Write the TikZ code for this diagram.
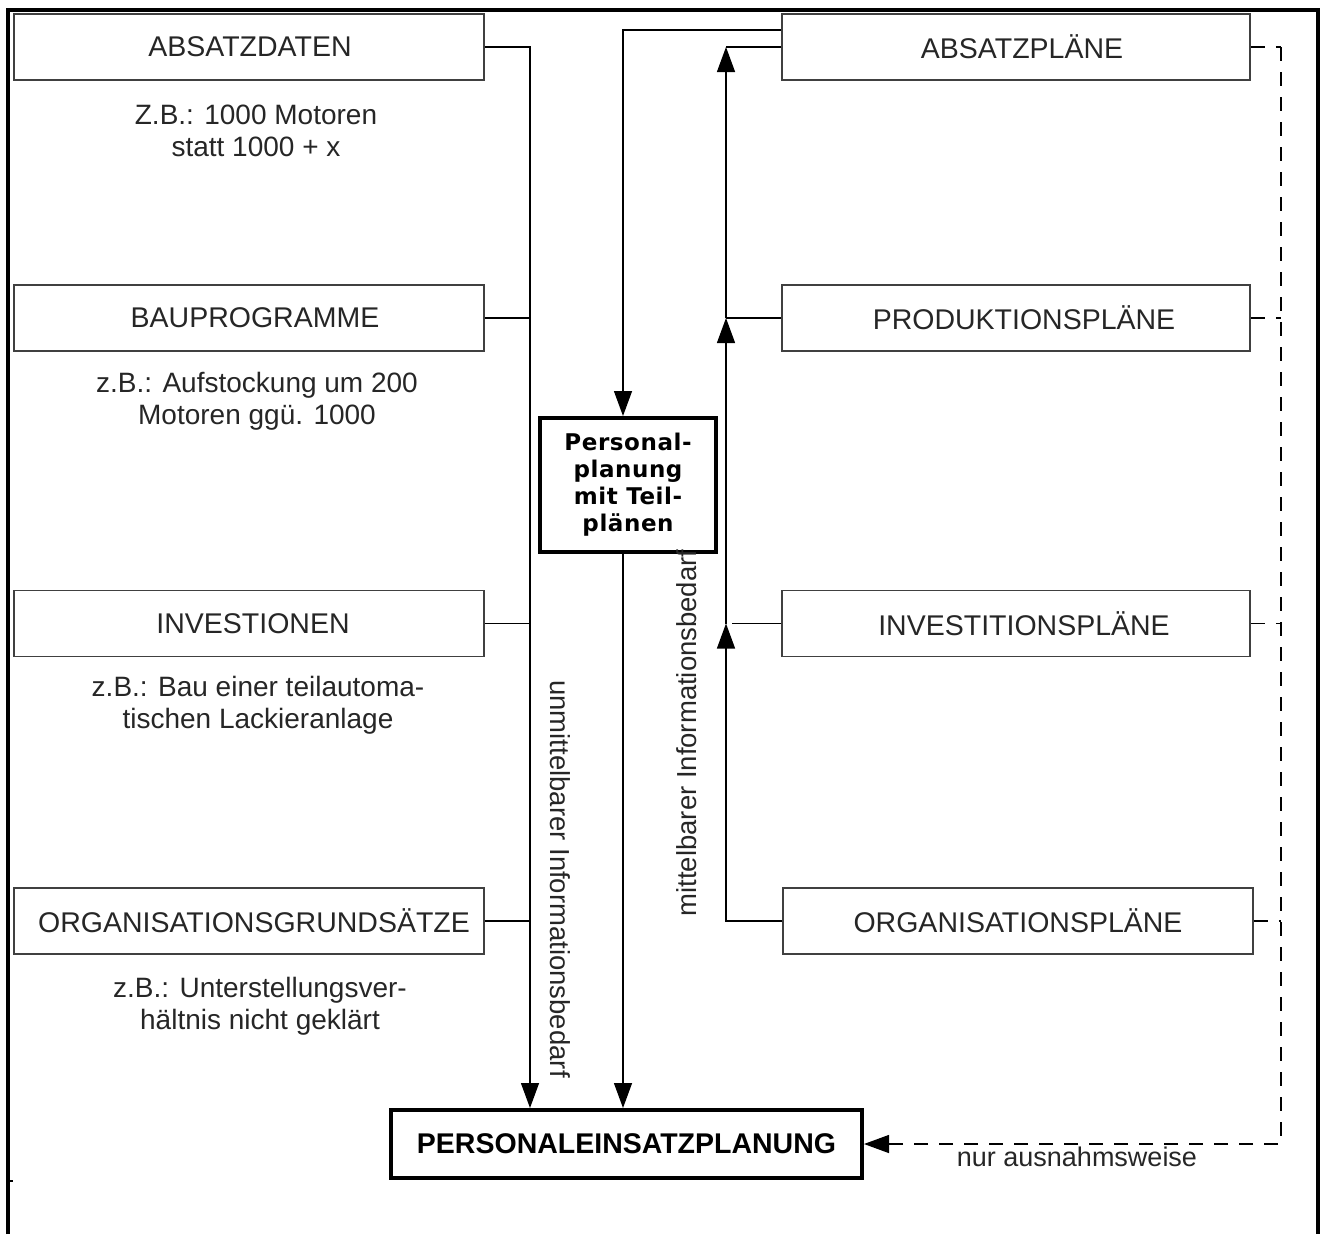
\documentclass[tikz,border=0pt]{standalone}
\usepackage{fontspec}
\setmainfont{Liberation Sans}
\newfontfamily\djsans[LetterSpace=2.5]{DejaVu Sans}
\usetikzlibrary{arrows.meta}
\begin{document}
\begin{tikzpicture}[x=1pt,y=-1pt,
  lbl/.style={font=\fontsize{28.5}{33}\selectfont, text=black!85},
  note/.style={font=\fontsize{28}{32}\selectfont, text=black!85, align=center, inner sep=0pt},
  plainbox/.style={draw=black!75, line width=1.6pt, minimum width=470pt, minimum height=66pt, inner sep=0pt, lbl},
  tshift/.style={execute at begin node={\hspace*{#1}}},
  strongbox/.style={draw=black, line width=4pt, inner sep=0pt},
  conn/.style={draw=black, line width=1.3pt},
  arr/.style={conn, -{Triangle[length=25pt,width=18pt]}},
  dsh/.style={conn, dash pattern=on 14pt off 11pt},
  frame/.style={draw=black, line width=3.2pt}
]
\useasboundingbox (0,0) rectangle (1322,1234);
% frame
\draw[frame] (8,1234) -- (8,10) -- (1318,10) -- (1318,1234);
\draw[line width=2pt] (8,1181) -- (13,1181);

% left boxes
\node[plainbox, tshift=2pt] (ad) at (249,47) {ABSATZDATEN};
\node[plainbox, tshift=12pt] (bp) at (249,318) {BAUPROGRAMME};
\node[plainbox, tshift=8pt] (inv) at (249,623.5) {INVESTIONEN};
\node[plainbox, tshift=10pt] (og) at (249,921) {ORGANISATIONSGRUNDSÄTZE};

% right boxes
\node[plainbox, minimum width=468pt, tshift=12pt] (ap) at (1016,47) {ABSATZPLÄNE};
\node[plainbox, minimum width=468pt, tshift=16pt] (pr) at (1016,318) {PRODUKTIONSPLÄNE};
\node[plainbox, minimum width=468pt, tshift=16pt] (ip) at (1016,623.5) {INVESTITIONSPLÄNE};
\node[plainbox, minimum width=470pt] (op) at (1018,921) {ORGANISATIONSPLÄNE};

% central boxes
\node[strongbox, minimum width=176pt, minimum height=134pt, align=center,
      font={\djsans\bfseries\fontsize{23}{27}\selectfont}] (pp) at (628,485)
      {Personal-\\planung\\mit Teil-\\plänen};
\node[strongbox, minimum width=471pt, minimum height=68pt,
      font={\bfseries\fontsize{28.5}{33}\selectfont}] (pe) at (626.5,1144)
      {PERSONALEINSATZPLANUNG};

% notes
\node[note] (n1) at (256,131) {Z.B.: 1000 Motoren\\statt 1000 + x};
\node[note] (n2) at (257,401) {z.B.: Aufstockung um 200\\Motoren ggü. 1000};
\node[note] (n3) at (258,705) {z.B.: Bau einer teilautoma-\\tischen Lackieranlage};
\node[note] (n4) at (260,1006) {z.B.: Unterstellungsver-\\hältnis nicht geklärt};

\node[note, font=\fontsize{27.5}{32}\selectfont, rotate=-90] (l1) at (560,879) {unmittelbarer Informationsbedarf};
\node[note, font=\fontsize{27.5}{32}\selectfont, rotate=90] (l2) at (687,733) {mittelbarer Informationsbedarf};
\node[note, font=\fontsize{27}{30}\selectfont] (l3) at (1077,1157) {nur ausnahmsweise};

% left bus
\coordinate (bl) at (530,0);
\draw[arr] (ad.east) -| (pe.north -| bl);
\draw[conn] (bp.east) -- (bp.east -| bl);
\draw[conn] (inv.east) -- (inv.east -| bl);
\draw[conn] (og.east) -- (og.east -| bl);

% centre path
\coordinate (bc) at (623,0);
\draw[arr] ([yshift=17pt]ap.west) -| (pp.north -| bc);
\draw[arr] (pp.south -| bc) -- (pe.north -| bc);

% right bus
\coordinate (br) at (726,0);
\draw[arr] (op.west) -| (ip.west -| br);
\draw[arr] (ip.west -| br) -- (pr.west -| br);
\draw[arr] (pr.west -| br) -- (ap.west -| br);
\draw[conn] (ip.west) -- ([xshift=6pt]ip.west -| br);
\draw[conn] (pr.west) -- (pr.west -| br);
\draw[conn] (ap.west) -- (ap.west -| br);

% dashed return
\coordinate (bd) at (1281,0);
\draw[dsh] (ap.east) -- (ap.east -| bd);
\draw[dsh] (pr.east) -- (pr.east -| bd);
\draw[dsh] (ip.east) -- (ip.east -| bd);
\draw[dsh] (op.east) -- (op.east -| bd);
\draw[dsh, -{Triangle[length=25pt,width=18pt]}] (ap.east -| bd) |- (pe.east);
\end{tikzpicture}
\end{document}
